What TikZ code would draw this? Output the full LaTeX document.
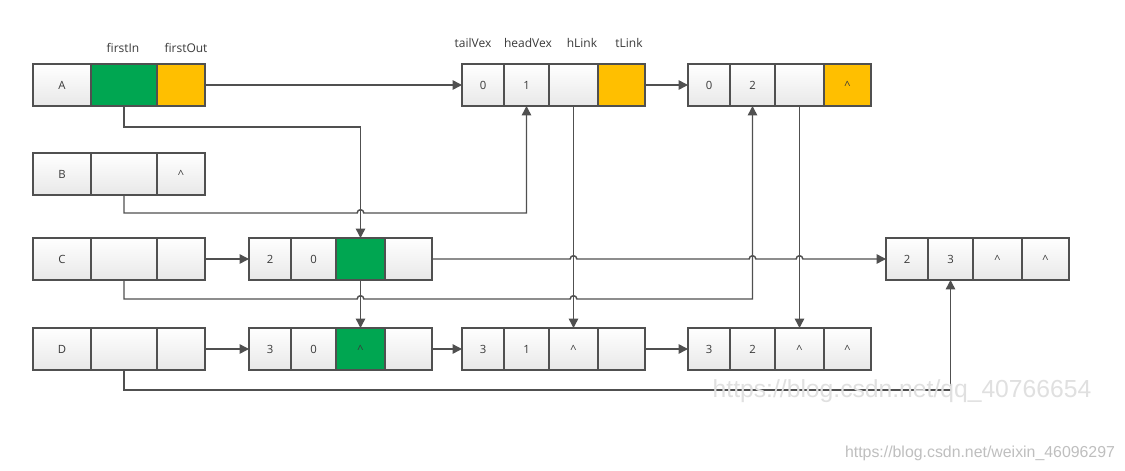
\documentclass[tikz,border=0pt]{standalone}
\usepackage{fontspec}
\setmainfont{Open Sans}
\newfontfamily\wmfont{Liberation Sans}
\usetikzlibrary{positioning,calc,arrows.meta}
\definecolor{linegray}{HTML}{505050}
\definecolor{txtgray}{HTML}{3A3A3A}
\definecolor{vgreen}{HTML}{00A651}
\definecolor{vyellow}{HTML}{FFBF00}
\tikzstyle{cell}=[draw=linegray,line width=1pt,minimum height=31.5pt,inner sep=0pt,outer sep=0pt,text=txtgray,font=\fontsize{8.5}{10}\selectfont]
\tikzstyle{plain}=[cell,top color=white,bottom color=black!9]
\tikzstyle{tint}=[cell,fill=#1]
\tikzstyle{head}=[text=txtgray,inner sep=1pt,font=\fontsize{9}{11}\selectfont]
\tikzstyle{link}=[draw=linegray,line width=1.1pt,-{Triangle[length=7pt,width=7pt]}]
\tikzstyle{wm}=[text=black!12,inner sep=0pt,font=\wmfont\fontsize{18.5}{20}\selectfont]
\tikzstyle{wmsmall}=[text=black!25,inner sep=0pt,font=\wmfont\fontsize{11.9}{14}\selectfont]
% vertex row: name, y, vertex, style in, style out, text out
\newcommand{\vexbox}[6]{
  \node[plain,minimum width=43.5pt,anchor=west,at={(33,#2)}] (#1a) {#3};
  \node[#4,minimum width=49.5pt,right=0pt of #1a] (#1b) {};
  \node[#5,minimum width=36pt,right=0pt of #1b] (#1c) {#6};}
% arc record: name, x, y, tailVex, headVex, hLink, tLink, style hLink, style tLink
\newcommand{\arcbox}[9]{
  \node[plain,minimum width=31.5pt,anchor=west,at={(#2,#3)}] (#1a) {#4};
  \node[plain,minimum width=33.75pt,right=0pt of #1a] (#1b) {#5};
  \node[#8,minimum width=36.75pt,right=0pt of #1b] (#1c) {#6};
  \node[#9,minimum width=35.25pt,right=0pt of #1c] (#1d) {#7};}
\newcommand{\hop}[2]{-- ($(#2 -| #1)+(-2.5pt,0)$) arc[start angle=180,end angle=0,radius=2.5pt]}
\newcommand{\nil}{\textasciicircum}

\begin{document}
\begin{tikzpicture}[x=0.75pt,y=-0.75pt]
    \fill[white] (0,0) rectangle (1125,471);
    \useasboundingbox (0,0) rectangle (1125,471);
    \coordinate (lvA) at (0,127);
    \coordinate (lvB) at (0,213);
    \coordinate (lvC) at (0,299);
    \coordinate (lvD) at (0,390);

    \vexbox{A}{85}{A}{tint=vgreen}{tint=vyellow}{}
    \vexbox{B}{174}{B}{plain}{plain}{\nil}
    \vexbox{C}{259}{C}{plain}{plain}{}
    \vexbox{D}{349}{D}{plain}{plain}{}

    \arcbox{e01}{462}{85}{0}{1}{}{}{plain}{tint=vyellow}
    \arcbox{e02}{688}{85}{0}{2}{}{\nil}{plain}{tint=vyellow}
    \arcbox{e20}{249}{259}{2}{0}{}{}{tint=vgreen}{plain}
    \arcbox{e23}{886}{259}{2}{3}{\nil}{\nil}{plain}{plain}
    \arcbox{e30}{249}{349}{3}{0}{\nil}{}{tint=vgreen}{plain}
    \arcbox{e31}{462}{349}{3}{1}{\nil}{}{plain}{plain}
    \arcbox{e32}{688}{349}{3}{2}{\nil}{\nil}{plain}{plain}

    \node[head] (fin) at (123,48) {firstIn};
    \node[head] (fout) at (186,48) {firstOut};
    \node[head] (tv) at (473,43) {tailVex};
    \node[head] (hv) at (528,43) {headVex};
    \node[head] (hl) at (582,43) {hLink};
    \node[head] (tl) at (629,43) {tLink};

    % tail lists
    \draw[link] (Ac.east) -- (e01a.west);
    \draw[link] (e01d.east) -- (e02a.west);
    \draw[link] (Cc.east) -- (e20a.west);
    \draw[link] (Dc.east) -- (e30a.west);
    \draw[link] (e30d.east) -- (e31a.west);
    \draw[link] (e31d.east) -- (e32a.west);
    \draw[link] (e20d.east) \hop{e01c}{e20d.east} \hop{e02b}{e20d.east} \hop{e02c}{e20d.east} -- (e23a.west);
    % head lists
    \draw[link] (Ab.south) |- (lvA -| e20c) -- (e20c.north);
    \draw[link] (Bb.south) -- (Bb.south |- lvB) \hop{e20c}{lvB} -| (e01b.south);
    \draw[link] (Cb.south) -- (Cb.south |- lvC) \hop{e20c}{lvC} \hop{e01c}{lvC} -| (e02b.south);
    \draw[link] (Db.south) |- (lvD -| e23b) -- (e23b.south);
    \draw[link] (e20c.south) -- (e30c.north);
    \draw[link] (e01c.south) -- (e31c.north);
    \draw[link] (e02c.south) -- (e32c.north);

    \node[wm] (wm1) at (902,391) {https://blog.csdn.net/qq\_40766654};
    \node[wmsmall] (wm2) at (980,453) {https://blog.csdn.net/weixin\_46096297};
\end{tikzpicture}
\end{document}
